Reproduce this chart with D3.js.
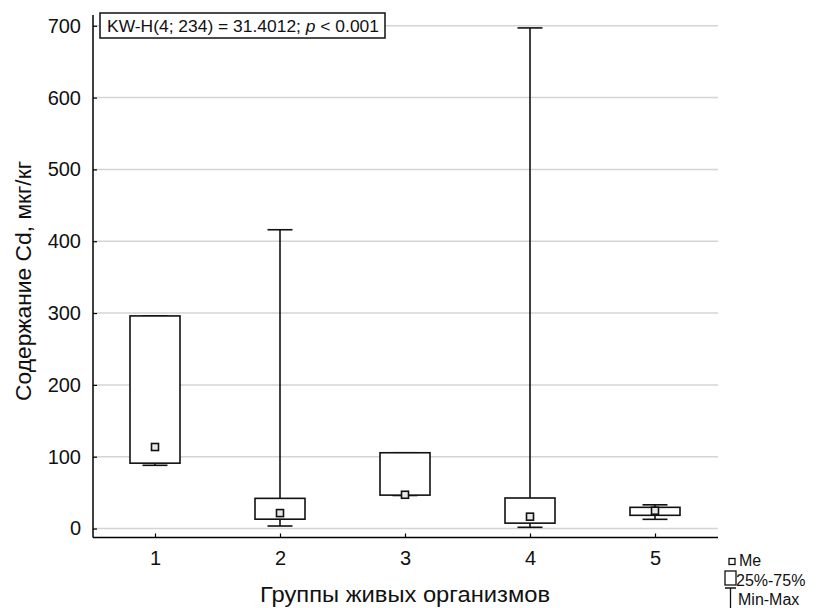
<!DOCTYPE html>
<html>
<head>
<meta charset="utf-8">
<script src="https://cdn.jsdelivr.net/npm/d3@7"></script>
<style>
  body { margin: 0; background: #fff; }
  svg { font-family: Arial, "Liberation Sans", sans-serif; }
</style>
</head>
<body>
<div id="chart"></div>
<script>
const groups = ["1", "2", "3", "4", "5"]
const minVals = [88, 3.5, 46, 1.7, 12.8]
const q1Vals = [91, 13, 46.5, 7.5, 18.4]
const medVals = [113.5, 21.5, 47, 16.5, 24.8]
const q3Vals = [296, 42, 105.5, 42.5, 29.5]
const maxVals = [296, 416, 105.5, 697, 33]
const yTicks = [0, 100, 200, 300, 400, 500, 600, 700]

const width = 818, height = 608

const svg = d3.select("#chart").append("svg")
    .attr("width", width)
    .attr("height", height)

const x = d3.scalePoint()
    .domain(groups)
    .range([155, 655])

const y = d3.scaleLinear()
    .domain([-12.5, 715])
    .range([537.5, 15])

// grid
svg.append("g")
    .selectAll("line")
    .data(yTicks)
    .enter()
    .append("line")
    .attr("x1", 93)
    .attr("x2", 718)
    .attr("y1", d => y(d))
    .attr("y2", d => y(d))
    .style("stroke", "#d4d4d4")
    .style("stroke-width", 1.5)

// axes
const yAxis = svg.append("g")
    .attr("transform", "translate(93,0)")
    .call(d3.axisLeft(y).tickValues(yTicks).tickSize(-4).tickPadding(12))
const xAxis = svg.append("g")
    .attr("transform", "translate(0,537.5)")
    .call(d3.axisBottom(x).tickSize(-4).tickPadding(13))

yAxis.select(".domain").attr("d", "M0,15V537.5")
xAxis.select(".domain").attr("d", "M93,0H718")
svg.selectAll(".domain").style("stroke", "#000").style("stroke-width", 1.5)
svg.selectAll(".tick line").style("stroke", "#000").style("stroke-width", 1.2)
svg.selectAll(".tick text")
    .style("font-size", "20px")
    .style("font-family", "Arial, 'Liberation Sans', sans-serif")
    .style("fill", "#111")

const half = 25, capHalf = 12.5

const box = svg.append("g")
    .selectAll("g")
    .data(groups)
    .enter()
    .append("g")
    .style("stroke", "#111")
    .style("stroke-width", 1.6)
    .style("fill", "none")

// whiskers
box.append("line")
    .attr("x1", d => x(d)).attr("x2", d => x(d))
    .attr("y1", (d, i) => y(maxVals[i]))
    .attr("y2", (d, i) => y(minVals[i]))
box.append("line")
    .attr("x1", d => x(d) - capHalf).attr("x2", d => x(d) + capHalf)
    .attr("y1", (d, i) => y(maxVals[i])).attr("y2", (d, i) => y(maxVals[i]))
box.append("line")
    .attr("x1", d => x(d) - capHalf).attr("x2", d => x(d) + capHalf)
    .attr("y1", (d, i) => y(minVals[i])).attr("y2", (d, i) => y(minVals[i]))

box.append("rect")
    .attr("x", d => x(d) - half)
    .attr("width", half * 2)
    .attr("y", (d, i) => y(q3Vals[i]))
    .attr("height", (d, i) => y(q1Vals[i]) - y(q3Vals[i]))
    .style("fill", "#fff")

box.append("rect")
    .attr("x", d => x(d) - 3.5)
    .attr("y", (d, i) => y(medVals[i]) - 3.5)
    .attr("width", 7)
    .attr("height", 7)
    .style("fill", "#e8e8e8")

// test annotation
svg.append("rect")
    .attr("x", 100).attr("y", 13)
    .attr("width", 285).attr("height", 25)
    .style("fill", "#fff").style("stroke", "#111").style("stroke-width", 1.5)
const ann = svg.append("text")
    .attr("x", 107).attr("y", 32)
    .attr("textLength", 272)
    .attr("lengthAdjust", "spacingAndGlyphs")
    .style("font-size", "16.5px")
    .style("fill", "#111")
ann.append("tspan").text("KW-H(4; 234) = 31.4012; ")
ann.append("tspan").style("font-style", "italic").text("p")
ann.append("tspan").text(" < 0.001")

// axis titles
svg.append("text")
    .attr("transform", "translate(31,281) rotate(-90)")
    .attr("text-anchor", "middle")
    .attr("textLength", 240)
    .attr("lengthAdjust", "spacingAndGlyphs")
    .style("font-size", "22px")
    .style("fill", "#111")
    .text("Содержание Cd, мкг/кг")
svg.append("text")
    .attr("x", 405).attr("y", 602)
    .attr("text-anchor", "middle")
    .attr("textLength", 290)
    .attr("lengthAdjust", "spacingAndGlyphs")
    .style("font-size", "22px")
    .style("fill", "#111")
    .text("Группы живых организмов")

// legend
const lg = svg.append("g").style("stroke", "#111").style("fill", "none").style("stroke-width", 1.3)
lg.append("rect").attr("x", 729).attr("y", 558.5).attr("width", 6).attr("height", 6)
lg.append("rect").attr("x", 725).attr("y", 571).attr("width", 11).attr("height", 14)
lg.append("path").attr("d", "M725,588H736M730.5,588V608")
const legendLabels = ["Me", "25%-75%", "Min-Max"]
const legendX = [739, 736, 738]
svg.append("g")
    .selectAll("text")
    .data(legendLabels)
    .enter()
    .append("text")
    .attr("x", (d, i) => legendX[i])
    .attr("y", (d, i) => 566 + i * 19.5)
    .style("font-size", "16px")
    .style("fill", "#111")
    .text(d => d)
</script>
</body>
</html>
